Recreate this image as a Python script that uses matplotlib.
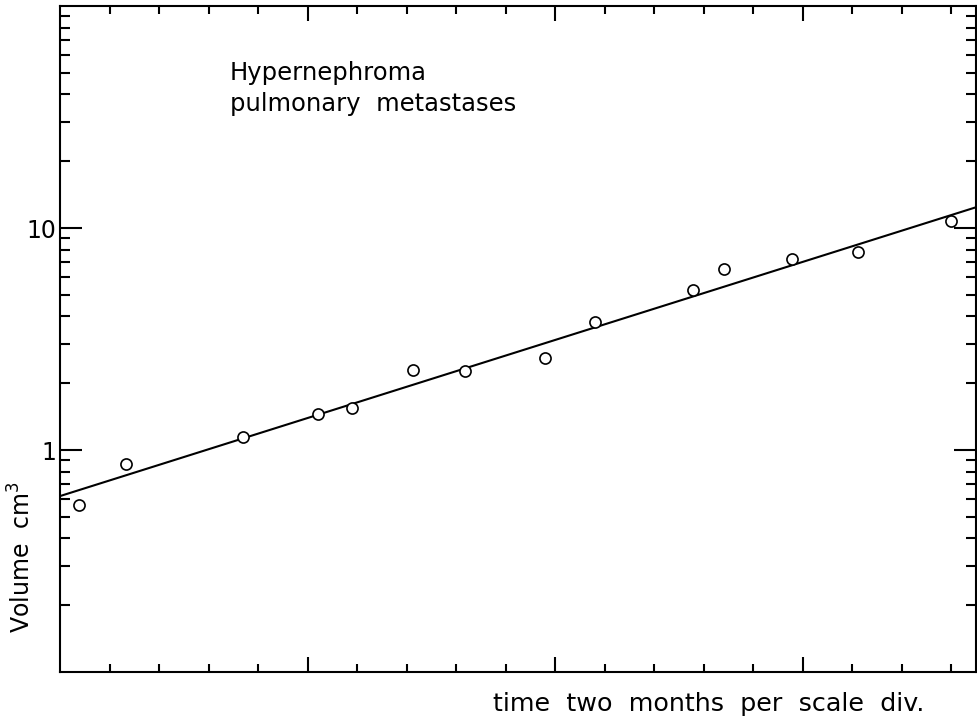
import numpy as np
import matplotlib
matplotlib.use("Agg")
import matplotlib.pyplot as plt
from matplotlib.ticker import FixedLocator, NullFormatter

# datos (tiempo en divisiones de escala, volumen en cm3)
t_div = [0.39, 1.34, 3.70, 5.21, 5.89, 7.13, 8.17, 9.79, 10.80, 12.79, 13.42, 14.78, 16.11, 17.99]
volumen = [0.567, 0.865, 1.148, 1.453, 1.541, 2.29, 2.26, 2.59, 3.78, 5.27, 6.54, 7.25, 7.82, 10.79]

# recta de ajuste (extremos leídos)
recta_t = [0.0, 18.5]
recta_v = [0.62, 12.4]

plt.rcParams['font.family'] = ['DejaVu Sans']

fig = plt.figure(figsize=(9.77, 7.18), dpi=100)
ax = fig.add_axes([60 / 977, 46 / 718, 916 / 977, 666 / 718])

ax.plot(recta_t, recta_v, color='black', lw=1.5)
ax.plot(t_div, volumen, 'o', ms=8, mfc='white', mec='black', mew=1.2)

ax.set_yscale('log')
ax.set_ylim(0.1, 100)
ax.set_xlim(0, 18.5)

# ticks eje y
ax.yaxis.set_major_locator(FixedLocator([1, 10]))
ax.set_yticklabels(['1', '10'])
menores_y = [m * 10.0 ** e for e in (-1, 0, 1) for m in range(2, 10)]
ax.yaxis.set_minor_locator(FixedLocator(menores_y))
ax.yaxis.set_minor_formatter(NullFormatter())

# ticks eje x: una division por unidad, larga cada 5
ax.xaxis.set_major_locator(FixedLocator([5, 10, 15]))
ax.xaxis.set_minor_locator(FixedLocator([k for k in range(1, 19) if k % 5]))
ax.set_xticklabels([])

ax.tick_params(axis='y', which='major', direction='in', length=16, width=1.5,
               left=True, right=True, labelsize=17, pad=3)
ax.tick_params(axis='y', which='minor', direction='in', length=7, width=1.5,
               left=True, right=True)
ax.tick_params(axis='x', which='major', direction='in', length=11, width=1.5,
               top=True, bottom=True)
ax.tick_params(axis='x', which='minor', direction='in', length=6, width=1.5,
               top=True, bottom=True)

for s in ax.spines.values():
    s.set_linewidth(1.5)

fig.text(230 / 977, 1 - 80 / 718, 'Hypernephroma', fontsize=17.5, va='baseline')
fig.text(230 / 977, 1 - 111 / 718, 'pulmonary  metastases', fontsize=17.5, va='baseline')

fig.text(22 / 977, 1 - 557 / 718, 'Volume  cm$^3$', fontsize=17, rotation=90,
         ha='center', va='center')
fig.text(924 / 977, 1 - 704 / 718, 'time  two  months  per  scale  div.', fontsize=18.3,
         ha='right', va='center')

fig.savefig('out.png', dpi=100)
